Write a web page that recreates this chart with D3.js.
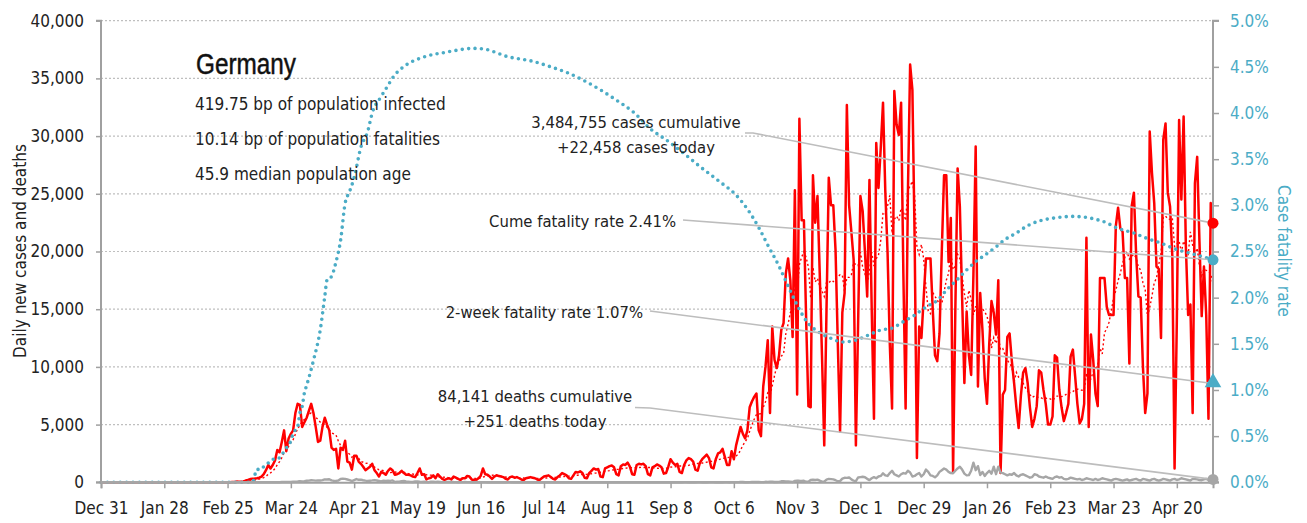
<!DOCTYPE html>
<html><head><meta charset="utf-8">
<script src="https://cdn.jsdelivr.net/npm/d3@7"></script>
<style>
html,body{margin:0;padding:0;background:#fff;}
svg{display:block;font-family:'DejaVu Sans Condensed','DejaVu Sans',sans-serif;font-stretch:condensed;}
</style></head><body>
<svg id="chart" width="1307" height="523"></svg>
<script>
// ---------- DATA ----------
const startDate = new Date(2019, 11, 31);
const country = "Germany";
const infoLines = ["419.75 bp of population infected", "10.14 bp of population fatalities", "45.9 median population age"];
const cumCases = 3484755, todayCases = 22458, cumDeaths = 84141, todayDeaths = 251;
const cumeCfr = 0.0241, twoWeekCfr = 0.0107;

const xTickLabels = ["Dec 31","Jan 28","Feb 25","Mar 24","Apr 21","May 19","Jun 16","Jul 14","Aug 11","Sep 8","Oct 6","Nov 3","Dec 1","Dec 29","Jan 26","Feb 23","Mar 23","Apr 20"];
const yLeftTicks = [0,5000,10000,15000,20000,25000,30000,35000,40000];
const yRightTicks = [0,0.005,0.01,0.015,0.02,0.025,0.03,0.035,0.04,0.045,0.05];

// daily new cases, one value per day from Dec 31 2019
const cases = [
0,0,0,0,0,0,0,0,0,0,0,0,0,0,0,0,0,0,0,0,0,0,0,0,0,0,0,
1,3,0,0,1,3,2,0,0,2,1,0,0,0,2,0,0,0,0,0,0,0,0,0,0,0,0,0,1,2,
10,30,20,60,50,40,80,150,200,280,300,320,350,400,500,700,
1050,1500,1200,1500,1900,2800,2600,3500,4500,2700,
3800,4200,4500,6000,6800,6700,4800,5200,5600,6200,
6800,6000,4800,3500,3600,4800,5600,5000,4500,3000,
2800,2900,1200,3000,2800,3600,1800,1700,1100,2300,
2300,1800,1600,1350,1050,1200,1350,1600,1050,800,
500,900,800,650,1000,1200,1050,650,700,800,
1000,800,650,650,600,500,450,800,1200,650,
700,250,350,
400,600,350,700,500,300,200,
300,350,250,500,400,300,200,
350,350,550,500,250,200,200,
350,550,1200,700,650,500,300,
500,600,550,500,450,300,250,
450,500,400,450,350,250,200,
350,400,450,400,350,250,200,
350,500,550,600,450,300,250,
450,600,800,700,600,350,300,
600,900,850,950,800,400,350,
800,1000,1200,1100,1150,500,450,
1200,1300,1400,1450,1300,700,600,
1400,1550,1500,1700,1350,700,650,
1500,1600,1550,1600,1400,700,600,
1300,1400,1550,1450,1300,750,800,
1350,2000,1700,1500,1600,900,800,
1500,1900,2100,2000,1800,1100,1000,
1700,2000,2200,2400,2100,1300,1200,
2000,2500,2600,2900,2200,1500,1500,
2700,
2000,3200,4000,4800,4200,3800,4500,6500,7000,7400,
7700,4500,4000,8300,10000,12300,6000,13500,10600,9900,
11000,13200,13800,18100,19400,17500,12600,25300,7600,31500,
22700,22700,14000,6600,6500,26600,22500,24800,18100,11000,
3200,15000,26400,24000,24000,20100,12000,4400,14700,16400,
32700,24000,21700,19300,3200,14000,24800,23500,20000,16100,
26200,15000,5500,29400,25500,
29000,32900,25300,20000,12000,6400,33900,31000,30100,32900,
18100,6400,25000,36200,34000,21000,2100,13500,12500,16000,
19400,19400,19400,15000,11000,10500,12900,20000,26600,26600,
19100,22900,900,15000,27200,23900,16000,8600,14800,11000,
9300,18000,29100,8300,16400,13200,9000,6800,12000,15700,
14700,12800,17500,800,7600,8000,12600,12900,10500,8600,
6500,4700,7500,9500,9900,8600,6500,4800,5500,6600,
9700,9500,8000,6800,5000,
5000,5700,11000,10800,8000,6500,5300,6000,6800,10900,
11500,9200,6800,5100,5500,6800,21200,4800,12800,10600,
7700,6600,17700,17700,17700,15200,14500,14500,14500,22200,
23800,22000,21700,17700,17700,10300,23900,25100,19700,16100,
16000,10000,6000,7700,30400,26800,24200,18700,18500,12500,
29700,31100,25100,23900,19600,1200,14000,31400,24500,31700,
20400,14500,15400,6000,25900,28200,20900,14400,18700,14500,
5500,24200,22458
];

// daily deaths, same days
const deaths = [
0,0,0,0,0,0,0,0,0,0,0,0,0,0,0,0,0,0,0,0,0,0,0,0,0,0,0,0,0,0,
0,0,0,0,0,0,0,0,0,0,0,0,0,0,0,0,0,0,0,0,0,0,0,0,0,0,0,0,0,0,
0,0,0,0,0,0,0,0,0,
2,0,1,2,2,3,4,6,7,8,9,20,
24,27,39,26,57,60,72,92,78,101,
132,147,176,168,147,170,160,187,254,246,
266,173,127,124,151,285,315,299,242,184,
110,194,281,215,227,179,140,110,139,163,
193,156,113,74,139,123,147,118,165,26,
48,50,101,111,75,60,35,25,84,81,
45,23,42,22,10,46,47,35,48,30,
15,12,29,24,33,21,17,2,14,18,
26,13,18,5,3,21,10,10,15,13,
6,6,8,12,10,12,6,6,3,12,
12,10,8,6,3,1,9,10,5,6,12,5,2,6,4,5,7,3,2,9,
7,8,5,3,1,2,6,4,7,12,8,5,2,1,4,3,10,6,8,3,2,5,6,4,9,6,4,1,3,5,
8,10,6,4,2,1,5,12,6,4,3,1,2,8,7,10,5,1,0,3,11,6,5,9,3,1,7,14,12,8,
4,2,10,15,12,9,6,1,11,13,18,10,4,12,9,11,13,6,12,
13,17,16,24,27,10,8,15,33,24,38,31,11,13,42,38,49,45,29,23,34,
85,89,75,80,55,25,120,150,130,118,131,45,45,200,220,200,230,140,60,58,
240,300,280,250,180,90,100,320,390,380,420,250,140,110,420,450,480,440,300,190,
350,450,350,500,550,780,600,550,800,1000,700,600,500,700,800,750,1000,850,500,550,
700,800,500,700,1100,900,600,550,430,600,900,1050,1200,1100,900,800,780,1000,1200,1350,
1100,750,600,620,1000,1700,1050,1400,630,900,550,800,1000,750,1350,700,1350,840,800,700,
600,700,650,800,600,500,650,700,600,500,
400,450,700,650,500,450,400,500,400,350,
300,450,500,400,450,300,250,300,400,350,
300,250,300,200,250,350,300,250,200,300,
200,250,350,300,250,200,150,250,300,250,
200,150,200,250,150,200,250,300,200,150,
300,250,200,150,250,300,200,150,200,300,
250,200,150,250,300,200,250,350,300,250,
200,150,300,280,250,200,180,250,300,200,
280,251
];

// cumulative case fatality rate (%), read at these day offsets
const cfrDays = [0,67,69,71,72,74,76,78,80,82,84,85,87,88,89,90,91,94,97,99,100,102,104,106,108,110,112,115,118,120,124,127,129,135,142,153,165,170,180,191,199,206,213,221,228,236,243,250,258,265,273,281,286,291,295,300,303,308,312,318,323,328,334,340,345,350,355,360,365,370,374,379,383,387,391,396,400,405,410,415,421,430,438,445,449,457,463,469,475,482,488,492];
const cfrPct  = [0,0,0.14,0.14,0.17,0.21,0.25,0.25,0.30,0.37,0.45,0.53,0.60,0.75,0.82,0.97,1.05,1.32,1.65,2.01,2.19,2.23,2.39,2.62,3.02,3.15,3.30,3.63,3.80,4.00,4.18,4.30,4.38,4.52,4.60,4.66,4.70,4.69,4.61,4.56,4.50,4.44,4.36,4.25,4.14,4.00,3.83,3.71,3.56,3.42,3.27,3.11,2.96,2.76,2.57,2.34,2.18,1.92,1.75,1.62,1.56,1.52,1.54,1.60,1.65,1.67,1.74,1.81,1.90,1.97,2.08,2.20,2.30,2.39,2.46,2.55,2.63,2.70,2.78,2.83,2.86,2.88,2.86,2.81,2.76,2.70,2.64,2.59,2.53,2.48,2.44,2.41];

// ---------- CHART ----------
(function () {
const RED = "#ff0000", BLUE = "#4bacc6", GRAY = "#a6a6a6", LEAD = "#bdbdbd";
const svg = d3.select("#chart");
const pL = 101, pR = 1213, pT = 20.7, pB = 482.3;

const dayDate = i => d3.timeDay.offset(startDate, i);
const dates = cases.map((_, i) => dayDate(i));
const lastDate = dates[dates.length - 1];

const x = d3.scaleTime().domain([startDate, lastDate]).range([pL, pR]);
const yL = d3.scaleLinear().domain([0, 40000]).range([pB, pT]);
const yR = d3.scaleLinear().domain([0, 0.05]).range([pB, pT]);

// gridlines
svg.append("g").selectAll("line").data(yLeftTicks.filter(d => d > 0)).join("line")
  .attr("x1", pL).attr("x2", pR).attr("y1", d => yL(d)).attr("y2", d => yL(d))
  .attr("stroke", "#bfbfbf").attr("stroke-width", 1.2).attr("stroke-dasharray", "2,2");

// 7-day average
const ma = cases.map((v, i) => d3.mean(cases.slice(Math.max(0, i - 6), i + 1)));

const line = d3.line().x((d, i) => x(dates[i])).y(d => yL(d));
svg.append("path").datum(cases).attr("d", line)
  .attr("fill", "none").attr("stroke", RED).attr("stroke-width", 2.5).attr("stroke-linejoin", "round");
svg.append("path").datum(ma).attr("d", line)
  .attr("fill", "none").attr("stroke", RED).attr("stroke-width", 1.4).attr("stroke-dasharray", "2,2.5");

// CFR dotted line
const cfrData = cfrDays.map((d, i) => [dayDate(d), cfrPct[i] / 100]);
svg.append("path").datum(cfrData)
  .attr("d", d3.line().x(d => x(d[0])).y(d => yR(d[1])).curve(d3.curveMonotoneX))
  .attr("fill", "none").attr("stroke", BLUE).attr("stroke-width", 3.6)
  .attr("stroke-linecap", "round").attr("stroke-dasharray", "0,6.4");

// axes
const fmtC = d3.format(",");
const gL = svg.append("g").attr("transform", `translate(${pL},0)`)
  .call(d3.axisLeft(yL).tickValues(yLeftTicks).tickFormat(fmtC).tickSize(5).tickPadding(12));
const gR = svg.append("g").attr("transform", `translate(${pR},0)`)
  .call(d3.axisRight(yR).tickValues(yRightTicks).tickFormat(d3.format(".1%")).tickSize(6).tickPadding(11));
const tickDates = xTickLabels.map((_, i) => dayDate(28 * i));
const gB = svg.append("g").attr("transform", `translate(0,${pB})`)
  .call(d3.axisBottom(x).tickValues(tickDates).tickFormat((d, i) => xTickLabels[i]).tickSize(6).tickPadding(14));

[gL, gR, gB].forEach(g => {
  g.attr("font-family", null);
  g.select(".domain").attr("stroke", "#a0a0a0").attr("stroke-width", 2);
  g.selectAll(".tick line").attr("stroke", "#a0a0a0").attr("stroke-width", 1.5);
  g.selectAll("text").attr("font-size", 17).attr("fill", "#222");
});
gL.select(".domain").attr("d", `M-5,${pT}H0V${pB}H-5`);
gR.select(".domain").attr("d", `M6,${pT}H0V${pB}H6`);
gR.selectAll("text").attr("fill", BLUE);

// deaths line over the bottom axis
svg.append("path").datum(deaths).attr("d", line)
  .attr("fill", "none").attr("stroke", GRAY).attr("stroke-width", 2.4).attr("stroke-linejoin", "round");

// axis titles
svg.append("text").attr("transform", "translate(26,251) rotate(-90)")
  .attr("text-anchor", "middle").attr("font-size", 17).attr("fill", "#222")
  .text("Daily new cases and deaths");
svg.append("text").attr("transform", "translate(1278,251) rotate(90)")
  .attr("text-anchor", "middle").attr("font-size", 17).attr("fill", BLUE)
  .text("Case fatality rate");

// title & info
svg.append("text").attr("x", 196).attr("y", 74)
  .attr("font-family", "'Liberation Sans','Arial',sans-serif").attr("font-stretch", "normal")
  .attr("font-size", 30).attr("fill", "#111").attr("stroke", "#111").attr("stroke-width", 0.5)
  .attr("textLength", 100).attr("lengthAdjust", "spacingAndGlyphs")
  .text(country);
infoLines.forEach((t, i) => {
  svg.append("text").attr("x", 195).attr("y", 110 + i * 35).attr("font-size", 17).attr("fill", "#222").text(t);
});

// annotations
const ann = svg.append("g").attr("font-size", 16.5).attr("fill", "#222");
ann.append("text").attr("x", 636).attr("y", 128).attr("text-anchor", "middle").text(fmtC(cumCases) + " cases cumulative");
ann.append("text").attr("x", 636).attr("y", 153).attr("text-anchor", "middle").text("+" + fmtC(todayCases) + " cases today");
ann.append("text").attr("x", 676).attr("y", 227).attr("text-anchor", "end").text("Cume fatality rate " + (cumeCfr * 100).toFixed(2) + "%");
ann.append("text").attr("x", 643).attr("y", 318).attr("text-anchor", "end").text("2-week fatality rate " + (twoWeekCfr * 100).toFixed(2) + "%");
ann.append("text").attr("x", 535).attr("y", 402).attr("text-anchor", "middle").text(fmtC(cumDeaths) + " deaths cumulative");
ann.append("text").attr("x", 535).attr("y", 427).attr("text-anchor", "middle").text("+" + fmtC(todayDeaths) + " deaths today");

const xe = x(lastDate);
const leaders = [
  [[745, 133], [753, 133], [xe, yL(todayCases)]],
  [[683, 220], [xe, yR(cumeCfr)]],
  [[650, 311], [xe, yR(twoWeekCfr)]],
  [[635, 407.5], [650, 408], [xe, yL(todayDeaths)]]
];
svg.append("g").selectAll("path").data(leaders).join("path")
  .attr("d", d3.line()).attr("fill", "none").attr("stroke", LEAD).attr("stroke-width", 1.6);

// end markers
svg.append("circle").attr("cx", xe).attr("cy", yL(todayCases)).attr("r", 5.5).attr("fill", RED);
svg.append("circle").attr("cx", xe).attr("cy", yR(cumeCfr)).attr("r", 5.5).attr("fill", BLUE);
svg.append("path").attr("transform", `translate(${xe},${yR(twoWeekCfr) - 1})`)
  .attr("d", d3.symbol(d3.symbolTriangle, 120)()).attr("fill", BLUE);
svg.append("circle").attr("cx", xe).attr("cy", yL(todayDeaths)).attr("r", 5.5).attr("fill", GRAY);
})();
</script>
</body></html>
